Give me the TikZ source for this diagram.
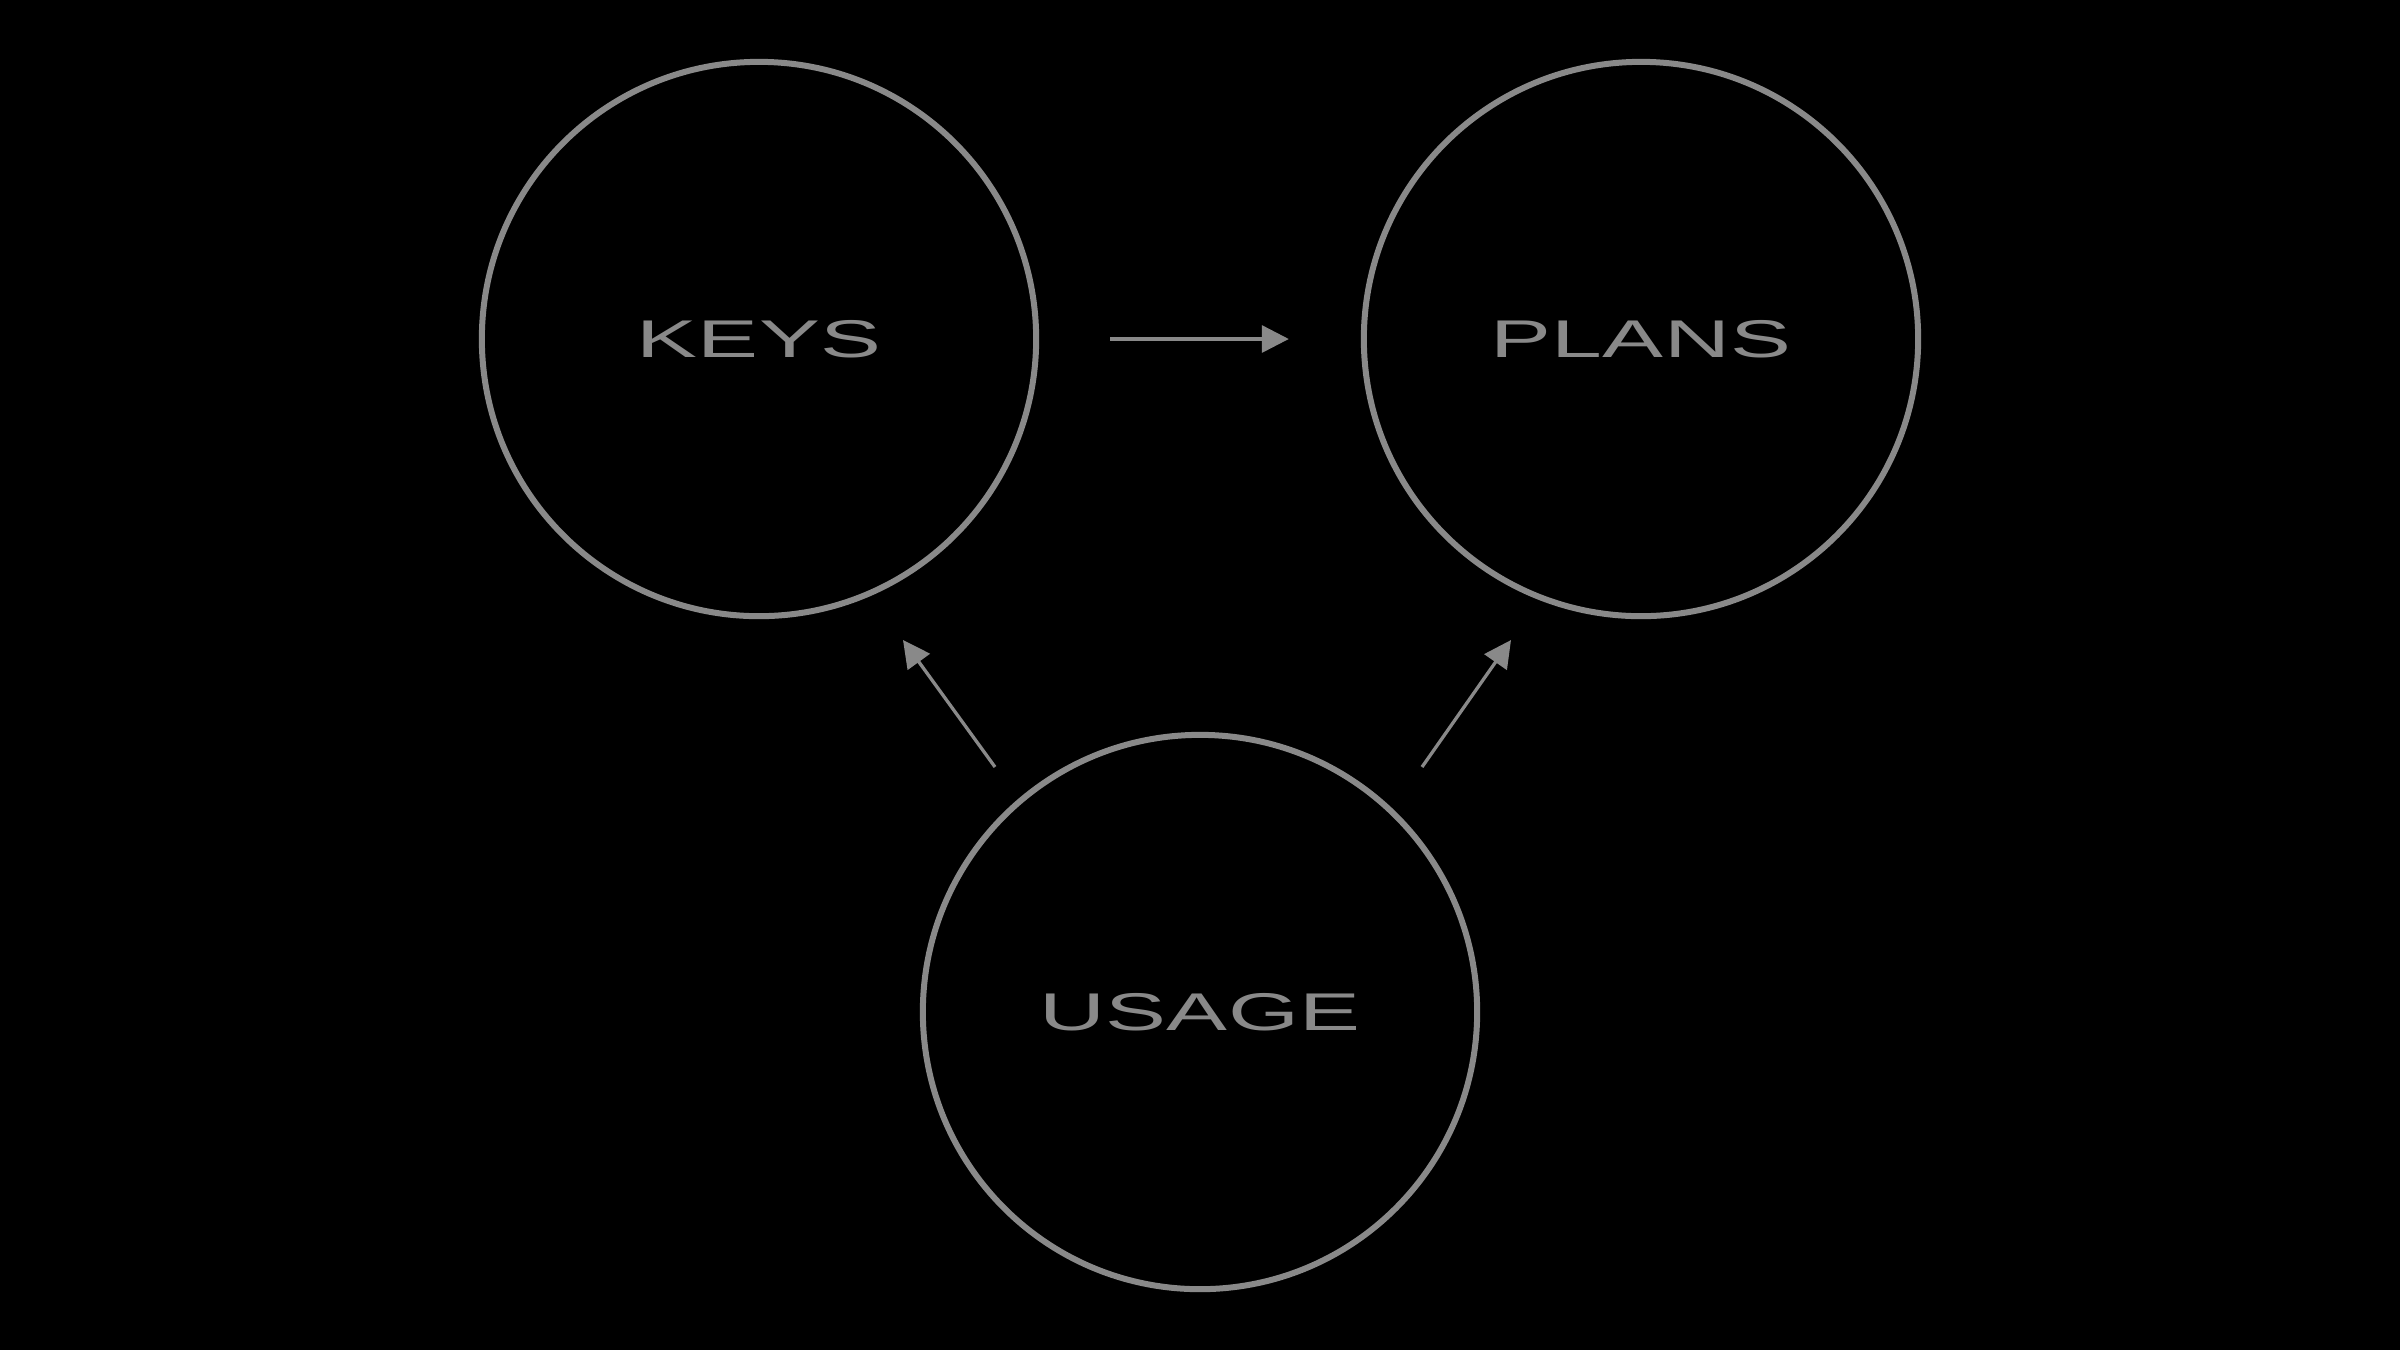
\documentclass[tikz,border=0pt]{standalone}
\usepackage{fontspec}
\setmainfont{Liberation Sans}[FakeStretch=1.72, LetterSpace=0.5]
\usetikzlibrary{arrows.meta}
\definecolor{ringgray}{HTML}{898989}
\begin{document}
\begin{tikzpicture}[x=0.01cm, y=-0.01cm,
  ring/.style={circle, draw=ringgray, line width=0.06cm, minimum size=5.54cm,
    inner sep=0pt, text=ringgray, font=\fontsize{15.1}{18}\selectfont},
  link/.style={draw=ringgray, line width=0.033cm,
    -{Triangle[length=0.27cm, width=0.27cm]}}]
  % canvas
  \fill[black] (0,0) rectangle (2400,1350);
  \useasboundingbox (0,0) rectangle (2400,1350);
  % the three circles
  \node[ring] (keys)  at (759,339)   {KEYS};
  \node[ring] (plans) at (1641,339)  {PLANS};
  \node[ring] (usage) at (1200,1012) {USAGE};
  % free ends of the diagonal arrows
  \coordinate (ukTail) at (995,767);
  \coordinate (ukHead) at (903,640);
  \coordinate (upTail) at (1422,767);
  \coordinate (upHead) at (1511,640);
  % connectors
  \draw[link, shorten <=0.71cm, shorten >=0.72cm] (keys) -- (plans);
  \draw[link] (ukTail) -- (ukHead);
  \draw[link] (upTail) -- (upHead);
\end{tikzpicture}
\end{document}
